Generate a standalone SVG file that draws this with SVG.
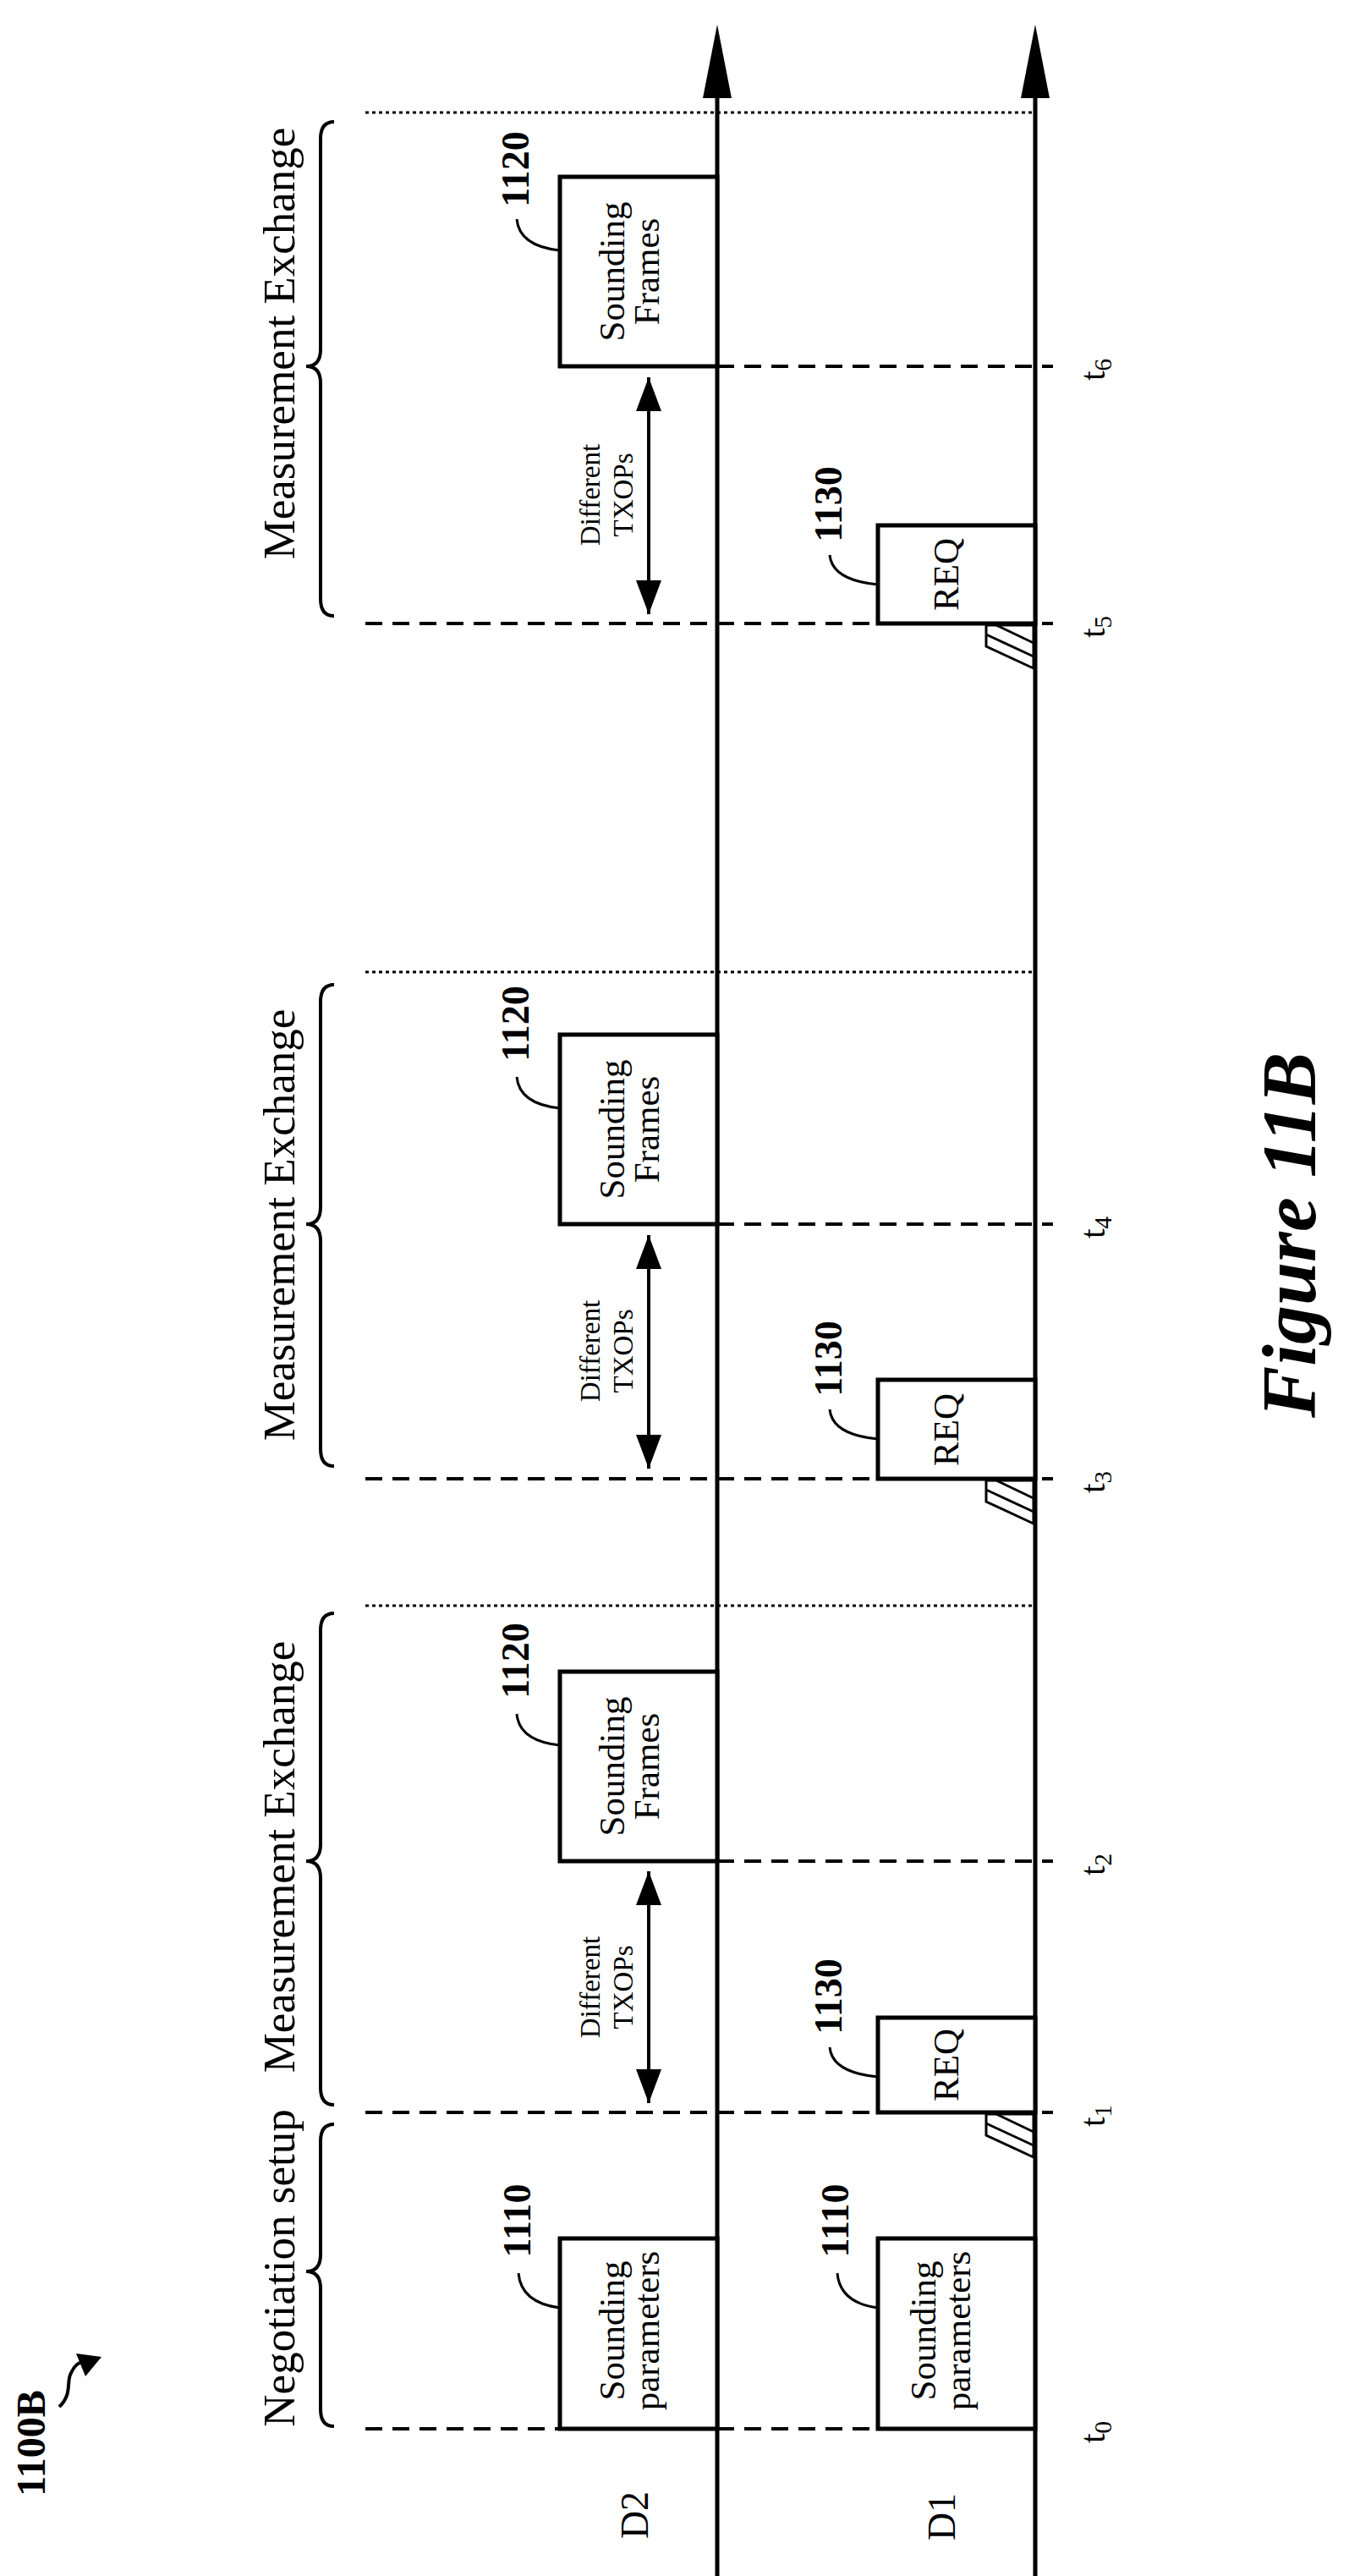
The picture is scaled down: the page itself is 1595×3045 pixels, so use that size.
<svg xmlns="http://www.w3.org/2000/svg" width="1595" height="3045" viewBox="0 0 1595 3045">
<style>
.ax{stroke:#000;stroke-width:5;fill:none}
.box{stroke:#000;stroke-width:5;fill:#fff}
.dash{stroke:#000;stroke-width:4;stroke-dasharray:20 12;fill:none}
.dot{stroke:#000;stroke-width:3;stroke-dasharray:4 4;fill:none}
.br{stroke:#000;stroke-width:4;fill:none}
.ld{stroke:#000;stroke-width:3;fill:none}
text{font-family:"Liberation Serif","Times New Roman",serif;fill:#000;text-anchor:middle}
.t40{font-size:43px}
.t50{font-size:53px}
.t32{font-size:33px}
.tt{font-size:42px}
.b44{font-size:46px;font-weight:bold}
.hat{stroke:#000;stroke-width:3;fill:#fff}
</style>
<defs>
<marker id="ah2" viewBox="0 0 40 30" refX="40" refY="15" markerWidth="40" markerHeight="30" markerUnits="userSpaceOnUse" orient="auto-start-reverse">
<path d="M0,0 L40,15 L0,30 z" fill="#000"/>
</marker>
</defs>

<g id="connectors">
<line class="dash" x1="432" y1="2871" x2="1224" y2="2871"/>
<line class="dash" x1="432" y1="2497" x2="1245" y2="2497"/>
<line class="dash" x1="848" y1="2200" x2="1245" y2="2200"/>
<line class="dash" x1="432" y1="1748" x2="1245" y2="1748"/>
<line class="dash" x1="848" y1="1447" x2="1245" y2="1447"/>
<line class="dash" x1="432" y1="737" x2="1245" y2="737"/>
<line class="dash" x1="848" y1="433" x2="1245" y2="433"/>
<line class="dot" x1="432" y1="1898" x2="1224" y2="1898"/>
<line class="dot" x1="432" y1="1149" x2="1224" y2="1149"/>
<line class="dot" x1="432" y1="133" x2="1224" y2="133"/>
<line class="ax" x1="848" y1="3045" x2="848" y2="110"/>
<polygon points="848,29 831,116 865,116" fill="#000"/>
<line class="ax" x1="1224" y1="3045" x2="1224" y2="110"/>
<polygon points="1224,29 1207,116 1241,116" fill="#000"/>
<line x1="767" y1="2212" x2="767" y2="2486" stroke="#000" stroke-width="4" marker-start="url(#ah2)" marker-end="url(#ah2)"/>
<line x1="767" y1="1460" x2="767" y2="1736" stroke="#000" stroke-width="4" marker-start="url(#ah2)" marker-end="url(#ah2)"/>
<line x1="767" y1="446" x2="767" y2="726" stroke="#000" stroke-width="4" marker-start="url(#ah2)" marker-end="url(#ah2)"/>
<path class="br" d="M395,144 Q379,144 379,164 L379,413 Q379,433 362,433 Q379,433 379,453 L379,708 Q379,728 395,728"/>
<path class="br" d="M395,1164 Q379,1164 379,1184 L379,1427 Q379,1447 362,1447 Q379,1447 379,1467 L379,1713 Q379,1733 395,1733"/>
<path class="br" d="M395,1907 Q379,1907 379,1927 L379,2180 Q379,2200 362,2200 Q379,2200 379,2220 L379,2468 Q379,2488 395,2488"/>
<path class="br" d="M395,2511 Q379,2511 379,2531 L379,2665 Q379,2685 362,2685 Q379,2685 379,2705 L379,2848 Q379,2868 395,2868"/>
<path class="ld" d="M613,2687 Q616,2722 662,2728"/>
<path class="ld" d="M990,2687 Q993,2722 1038,2728"/>
<path class="ld" d="M611,2026 Q614,2058 662,2063"/>
<path class="ld" d="M611,1273 Q614,1305 662,1310"/>
<path class="ld" d="M611,259 Q614,291 662,296"/>
<path class="ld" d="M981,2420 Q984,2450 1038,2455"/>
<path class="ld" d="M981,1666 Q984,1696 1038,1701"/>
<path class="ld" d="M981,656 Q984,686 1038,691"/>
<g id="hatch1"><polygon class="hat" points="1166,2499 1222,2499 1222,2550 1166,2524"/><path class="ld" d="M1178,2499 L1222,2520 M1166,2510 L1222,2536"/></g>
<g id="hatch3"><polygon class="hat" points="1166,1750 1222,1750 1222,1801 1166,1775"/><path class="ld" d="M1178,1750 L1222,1771 M1166,1761 L1222,1787"/></g>
<g id="hatch5"><polygon class="hat" points="1166,739 1222,739 1222,790 1166,764"/><path class="ld" d="M1178,739 L1222,760 M1166,750 L1222,776"/></g>
<path d="M70,2845 C86,2830 78,2815 84,2805 C88,2796 92,2793 98,2792" stroke="#000" stroke-width="4" fill="none"/>
<polygon points="90,2782 120,2786 101,2809" fill="#000"/>
</g>

<g id="n1110-d2"><rect class="box" x="662" y="2646" width="186" height="225"/>
<text class="t40" transform="translate(738,2755) rotate(-90)">Sounding</text>
<text class="t40" transform="translate(779,2755) rotate(-90)">parameters</text>
<text class="b44" transform="translate(627,2625) rotate(-90)">1110</text></g>
<g id="n1110-d1"><rect class="box" x="1038" y="2646" width="186" height="225"/>
<text class="t40" transform="translate(1106,2755) rotate(-90)">Sounding</text>
<text class="t40" transform="translate(1147,2755) rotate(-90)">parameters</text>
<text class="b44" transform="translate(1003,2625) rotate(-90)">1110</text></g>

<g id="n1130-a"><rect class="box" x="1038" y="2385" width="186" height="112"/>
<text class="t40" transform="translate(1133,2441) rotate(-90)">REQ</text>
<text class="b44" transform="translate(995,2360) rotate(-90)">1130</text></g>
<g id="n1130-b"><rect class="box" x="1038" y="1631" width="186" height="117"/>
<text class="t40" transform="translate(1133,1690) rotate(-90)">REQ</text>
<text class="b44" transform="translate(995,1606) rotate(-90)">1130</text></g>
<g id="n1130-c"><rect class="box" x="1038" y="621" width="186" height="116"/>
<text class="t40" transform="translate(1133,679) rotate(-90)">REQ</text>
<text class="b44" transform="translate(995,596) rotate(-90)">1130</text></g>

<g id="n1120-a"><rect class="box" x="662" y="1976" width="186" height="224"/>
<text class="t40" transform="translate(738,2088) rotate(-90)">Sounding</text>
<text class="t40" transform="translate(779,2088) rotate(-90)">Frames</text>
<text class="b44" transform="translate(625,1963) rotate(-90)">1120</text></g>
<g id="n1120-b"><rect class="box" x="662" y="1223" width="186" height="224"/>
<text class="t40" transform="translate(738,1335) rotate(-90)">Sounding</text>
<text class="t40" transform="translate(779,1335) rotate(-90)">Frames</text>
<text class="b44" transform="translate(625,1210) rotate(-90)">1120</text></g>
<g id="n1120-c"><rect class="box" x="662" y="209" width="186" height="224"/>
<text class="t40" transform="translate(738,321) rotate(-90)">Sounding</text>
<text class="t40" transform="translate(779,321) rotate(-90)">Frames</text>
<text class="b44" transform="translate(625,200) rotate(-90)">1120</text></g>

<g id="labels">
<text class="t50" transform="translate(348,2681) rotate(-90)">Negotiation setup</text>
<text class="t50" transform="translate(348,2195) rotate(-90)">Measurement Exchange</text>
<text class="t50" transform="translate(348,1448) rotate(-90)">Measurement Exchange</text>
<text class="t50" transform="translate(348,406) rotate(-90)">Measurement Exchange</text>
<text class="t32" transform="translate(709,2349) rotate(-90)">Different</text>
<text class="t32" transform="translate(748,2349) rotate(-90)">TXOPs</text>
<text class="t32" transform="translate(709,1597) rotate(-90)">Different</text>
<text class="t32" transform="translate(748,1597) rotate(-90)">TXOPs</text>
<text class="t32" transform="translate(709,585) rotate(-90)">Different</text>
<text class="t32" transform="translate(748,585) rotate(-90)">TXOPs</text>
<text class="tt" transform="translate(1306,2875) rotate(-90)">t<tspan font-size="29" dy="8">0</tspan></text>
<text class="tt" transform="translate(1306,2501) rotate(-90)">t<tspan font-size="29" dy="8">1</tspan></text>
<text class="tt" transform="translate(1306,2204) rotate(-90)">t<tspan font-size="29" dy="8">2</tspan></text>
<text class="tt" transform="translate(1306,1752) rotate(-90)">t<tspan font-size="29" dy="8">3</tspan></text>
<text class="tt" transform="translate(1306,1451) rotate(-90)">t<tspan font-size="29" dy="8">4</tspan></text>
<text class="tt" transform="translate(1306,741) rotate(-90)">t<tspan font-size="29" dy="8">5</tspan></text>
<text class="tt" transform="translate(1306,437) rotate(-90)">t<tspan font-size="29" dy="8">6</tspan></text>
<text style="font-size:46px" transform="translate(766,2973) rotate(-90)">D2</text>
<text style="font-size:46px" transform="translate(1129,2975) rotate(-90)">D1</text>
<text style="font-size:48px;font-weight:bold" transform="translate(53,2888) rotate(-90)">1100B</text>
<text style="font-size:92px;font-weight:bold;font-style:italic" transform="translate(1555,1460) rotate(-90)">Figure 11B</text>
</g>
</svg>
